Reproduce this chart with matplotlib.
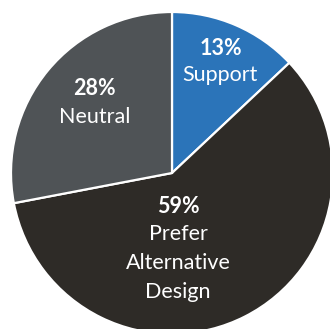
import matplotlib
matplotlib.use("Agg")
import matplotlib.pyplot as plt
import numpy as np

categories = ["Support", "Prefer\nAlternative\nDesign", "Neutral"]
values = [13, 59, 28]
pct_labels = ["13%", "59%", "28%"]
colors = ["#2b74b9", "#2e2b27", "#4f5356"]

W, H = 330, 329
R = 161.0
cx, cy = 172.0, 173.0

fig = plt.figure(figsize=(W / 100, H / 100), dpi=100)
ax = fig.add_axes([0, 0, 1, 1])

wedges, _ = ax.pie(values, colors=colors, startangle=90, counterclock=False,
                   radius=1.0, center=(0, 0), frame=True,
                   wedgeprops=dict(edgecolor="white", linewidth=1.6))
ax.set_xlim(-cx / R, (W - cx) / R)
ax.set_ylim(-(H - cy) / R, cy / R)
ax.set_aspect("equal")
ax.axis("off")

# label layout (radius units): percent position, name position
pct_pos = [(0.304, 0.776), (0.037, -0.211), (-0.484, 0.522)]
name_pos = [(0.298, 0.609), (0.037, -0.559), (-0.478, 0.348)]

font = "Lato"
for i in range(len(values)):
    ax.text(*pct_pos[i], pct_labels[i], ha="center", va="center", color="white",
            fontsize=15.5, fontweight="bold", family=font)
    ax.text(*name_pos[i], categories[i], ha="center", va="center", color="white",
            fontsize=15.5, family=font, linespacing=1.55)

fig.savefig("out.png", dpi=100, facecolor="white")
